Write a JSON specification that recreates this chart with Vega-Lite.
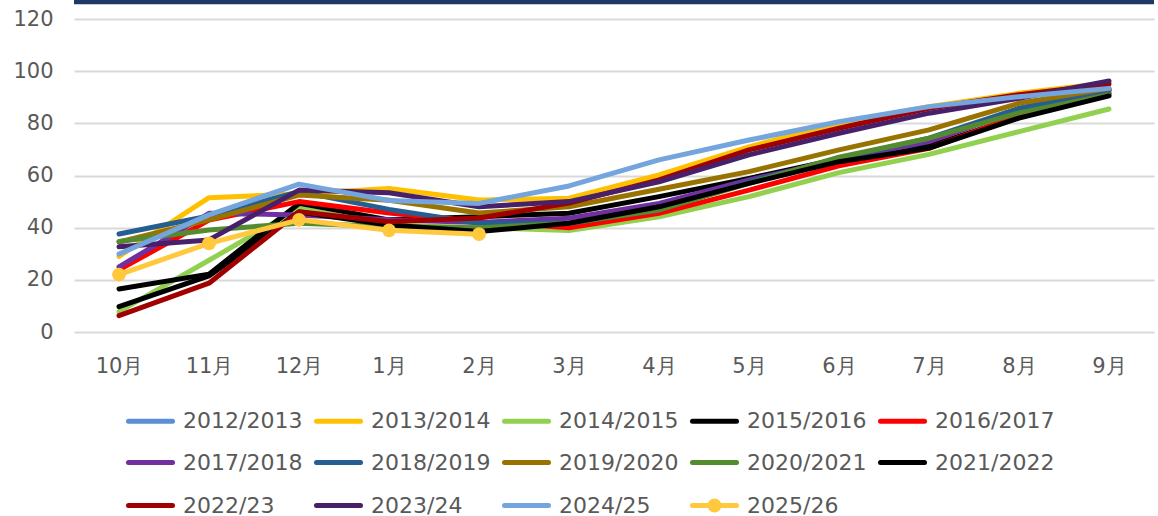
{
  "$schema": "https://vega.github.io/schema/vega-lite/v6.json",
  "width": 1080,
  "height": 313,
  "autosize": {"type": "none"},
  "padding": {"left": 74, "top": 19, "right": 4, "bottom": 184},
  "background": "#ffffff",
  "config": {
    "view": {"stroke": null},
    "font": "DejaVu Sans"
  },
  "datasets": {
    "main": [
      {"s":"2013/2014","m":"10月","v":29},{"s":"2013/2014","m":"11月","v":51.5},{"s":"2013/2014","m":"12月","v":53},{"s":"2013/2014","m":"1月","v":55},{"s":"2013/2014","m":"2月","v":50.6},{"s":"2013/2014","m":"3月","v":51.3},{"s":"2013/2014","m":"4月","v":60.2},{"s":"2013/2014","m":"5月","v":71},{"s":"2013/2014","m":"6月","v":80},{"s":"2013/2014","m":"7月","v":86.4},{"s":"2013/2014","m":"8月","v":91.5},{"s":"2013/2014","m":"9月","v":95.6},
      {"s":"2014/2015","m":"10月","v":7.8},{"s":"2014/2015","m":"11月","v":27.5},{"s":"2014/2015","m":"12月","v":47.5},{"s":"2014/2015","m":"1月","v":41},{"s":"2014/2015","m":"2月","v":40},{"s":"2014/2015","m":"3月","v":38.9},{"s":"2014/2015","m":"4月","v":44.2},{"s":"2014/2015","m":"5月","v":51.9},{"s":"2014/2015","m":"6月","v":61.1},{"s":"2014/2015","m":"7月","v":68.1},{"s":"2014/2015","m":"8月","v":76.8},{"s":"2014/2015","m":"9月","v":85.5},
      {"s":"2015/2016","m":"10月","v":16.5},{"s":"2015/2016","m":"11月","v":22.2},{"s":"2015/2016","m":"12月","v":49.3},{"s":"2015/2016","m":"1月","v":43},{"s":"2015/2016","m":"2月","v":44.2},{"s":"2015/2016","m":"3月","v":45.5},{"s":"2015/2016","m":"4月","v":51.9},{"s":"2015/2016","m":"5月","v":58.9},{"s":"2015/2016","m":"6月","v":66.3},{"s":"2015/2016","m":"7月","v":71.3},{"s":"2015/2016","m":"8月","v":82.6},{"s":"2015/2016","m":"9月","v":91.5},
      {"s":"2016/2017","m":"10月","v":23.8},{"s":"2016/2017","m":"11月","v":42.9},{"s":"2016/2017","m":"12月","v":50},{"s":"2016/2017","m":"1月","v":45.6},{"s":"2016/2017","m":"2月","v":42.3},{"s":"2016/2017","m":"3月","v":40},{"s":"2016/2017","m":"4月","v":45.5},{"s":"2016/2017","m":"5月","v":54.4},{"s":"2016/2017","m":"6月","v":63.7},{"s":"2016/2017","m":"7月","v":70.4},{"s":"2016/2017","m":"8月","v":83},{"s":"2016/2017","m":"9月","v":93},
      {"s":"2017/2018","m":"10月","v":25},{"s":"2017/2018","m":"11月","v":45.5},{"s":"2017/2018","m":"12月","v":44.9},{"s":"2017/2018","m":"1月","v":43},{"s":"2017/2018","m":"2月","v":42},{"s":"2017/2018","m":"3月","v":43.6},{"s":"2017/2018","m":"4月","v":49.3},{"s":"2017/2018","m":"5月","v":58.3},{"s":"2017/2018","m":"6月","v":66},{"s":"2017/2018","m":"7月","v":73},{"s":"2017/2018","m":"8月","v":85.1},{"s":"2017/2018","m":"9月","v":92.5},
      {"s":"2018/2019","m":"10月","v":37.6},{"s":"2018/2019","m":"11月","v":44.5},{"s":"2018/2019","m":"12月","v":53.8},{"s":"2018/2019","m":"1月","v":47},{"s":"2018/2019","m":"2月","v":41.7},{"s":"2018/2019","m":"3月","v":41.7},{"s":"2018/2019","m":"4月","v":46.8},{"s":"2018/2019","m":"5月","v":57.5},{"s":"2018/2019","m":"6月","v":66.5},{"s":"2018/2019","m":"7月","v":74.3},{"s":"2018/2019","m":"8月","v":85.8},{"s":"2018/2019","m":"9月","v":93},
      {"s":"2019/2020","m":"10月","v":34.5},{"s":"2019/2020","m":"11月","v":43},{"s":"2019/2020","m":"12月","v":52.5},{"s":"2019/2020","m":"1月","v":50.5},{"s":"2019/2020","m":"2月","v":45.6},{"s":"2019/2020","m":"3月","v":48},{"s":"2019/2020","m":"4月","v":54.7},{"s":"2019/2020","m":"5月","v":61.5},{"s":"2019/2020","m":"6月","v":69.8},{"s":"2019/2020","m":"7月","v":77.5},{"s":"2019/2020","m":"8月","v":87.7},{"s":"2019/2020","m":"9月","v":93.4},
      {"s":"2020/2021","m":"10月","v":34.7},{"s":"2020/2021","m":"11月","v":39.1},{"s":"2020/2021","m":"12月","v":41.7},{"s":"2020/2021","m":"1月","v":40.4},{"s":"2020/2021","m":"2月","v":40},{"s":"2020/2021","m":"3月","v":41.7},{"s":"2020/2021","m":"4月","v":46.8},{"s":"2020/2021","m":"5月","v":57},{"s":"2020/2021","m":"6月","v":67},{"s":"2020/2021","m":"7月","v":74.3},{"s":"2020/2021","m":"8月","v":84},{"s":"2020/2021","m":"9月","v":91},
      {"s":"2021/2022","m":"10月","v":9.7},{"s":"2021/2022","m":"11月","v":21.5},{"s":"2021/2022","m":"12月","v":46},{"s":"2021/2022","m":"1月","v":41},{"s":"2021/2022","m":"2月","v":38.5},{"s":"2021/2022","m":"3月","v":41.7},{"s":"2021/2022","m":"4月","v":48},{"s":"2021/2022","m":"5月","v":57},{"s":"2021/2022","m":"6月","v":65.3},{"s":"2021/2022","m":"7月","v":70.5},{"s":"2021/2022","m":"8月","v":82},{"s":"2021/2022","m":"9月","v":90.5},
      {"s":"2022/23","m":"10月","v":6.3},{"s":"2022/23","m":"11月","v":18.7},{"s":"2022/23","m":"12月","v":46.1},{"s":"2022/23","m":"1月","v":42.3},{"s":"2022/23","m":"2月","v":43.7},{"s":"2022/23","m":"3月","v":49.4},{"s":"2022/23","m":"4月","v":58.3},{"s":"2022/23","m":"5月","v":69.8},{"s":"2022/23","m":"6月","v":78.1},{"s":"2022/23","m":"7月","v":85.8},{"s":"2022/23","m":"8月","v":91},{"s":"2022/23","m":"9月","v":95.1},
      {"s":"2023/24","m":"10月","v":32.7},{"s":"2023/24","m":"11月","v":35.3},{"s":"2023/24","m":"12月","v":54.4},{"s":"2023/24","m":"1月","v":53.4},{"s":"2023/24","m":"2月","v":48},{"s":"2023/24","m":"3月","v":50},{"s":"2023/24","m":"4月","v":57.6},{"s":"2023/24","m":"5月","v":67.9},{"s":"2023/24","m":"6月","v":76.2},{"s":"2023/24","m":"7月","v":83.9},{"s":"2023/24","m":"8月","v":89.6},{"s":"2023/24","m":"9月","v":96.2},
      {"s":"2024/25","m":"10月","v":29.9},{"s":"2024/25","m":"11月","v":44.9},{"s":"2024/25","m":"12月","v":56.7},{"s":"2024/25","m":"1月","v":50.4},{"s":"2024/25","m":"2月","v":49.3},{"s":"2024/25","m":"3月","v":56},{"s":"2024/25","m":"4月","v":66},{"s":"2024/25","m":"5月","v":73.6},{"s":"2024/25","m":"6月","v":80.6},{"s":"2024/25","m":"7月","v":86.4},{"s":"2024/25","m":"8月","v":90.2},{"s":"2024/25","m":"9月","v":93.4},
      {"s":"2025/26","m":"10月","v":22},{"s":"2025/26","m":"11月","v":34},{"s":"2025/26","m":"12月","v":43},{"s":"2025/26","m":"1月","v":39},{"s":"2025/26","m":"2月","v":37.5}
    ],
    "topbar": [{"v": 126.5}]
  },
  "data": {"name": "main"},
  "layer": [
    {
      "mark": {"type": "line", "strokeWidth": 5, "strokeJoin": "round", "strokeCap": "round"},
      "encoding": {
        "x": {
          "field": "m", "type": "ordinal",
          "sort": ["10月","11月","12月","1月","2月","3月","4月","5月","6月","7月","8月","9月"],
          "scale": {"type": "point", "padding": 0.5},
          "axis": {"title": null, "domain": false, "ticks": false, "labelAngle": 0, "labelPadding": 23, "labelFontSize": 21, "labelColor": "#595959", "grid": false}
        },
        "y": {
          "field": "v", "type": "quantitative",
          "scale": {"domain": [0, 120], "nice": false},
          "axis": {"title": null, "values": [0,20,40,60,80,100,120], "domain": false, "ticks": false, "labelPadding": 21, "labelFontSize": 21, "labelColor": "#595959", "gridColor": "#D9D9D9", "gridWidth": 2}
        },
        "color": {
          "field": "s", "type": "nominal",
          "scale": {
            "domain": ["2012/2013","2013/2014","2014/2015","2015/2016","2016/2017","2017/2018","2018/2019","2019/2020","2020/2021","2021/2022","2022/23","2023/24","2024/25","2025/26"],
            "range": ["#5A8FD8","#FFC000","#92D050","#000000","#FF0000","#7030A0","#255E91","#997300","#558B2F","#000000","#A00000","#48206A","#74A5DC","#FFC83D"]
          },
          "legend": {
            "title": null,
            "orient": "none",
            "legendX": 52,
            "legendY": 376,
            "direction": "horizontal",
            "columns": 5,
            "gridAlign": "all",
            "symbolType": "stroke",
            "symbolSize": 1936,
            "symbolStrokeWidth": 5,
            "labelFontSize": 22,
            "labelColor": "#595959",
            "labelOffset": 8,
            "columnPadding": 3,
            "rowPadding": 4,
            "labelLimit": 300,
            "encode": {
              "symbols": {
                "update": {
                  "shape": {"signal": "datum.value === '2025/26' ? 'M-1,0H1M-0.2,0A0.2,0.2 0 1,0 0.2,0A0.2,0.2 0 1,0 -0.2,0' : 'stroke'"},
                  "strokeCap": {"value": "round"}
                }
              }
            }
          }
        }
      }
    },
    {
      "transform": [{"filter": "datum.s === '2025/26'"}],
      "mark": {"type": "point", "filled": true, "opacity": 1, "size": 190, "shape": "circle", "color": "#FFC83D"},
      "encoding": {
        "x": {"field": "m", "type": "ordinal", "sort": ["10月","11月","12月","1月","2月","3月","4月","5月","6月","7月","8月","9月"]},
        "y": {"field": "v", "type": "quantitative"}
      }
    },
    {
      "data": {"name": "topbar"},
      "mark": {"type": "rule", "color": "#1F3864", "strokeWidth": 4.5, "clip": false},
      "encoding": {"y": {"field": "v", "type": "quantitative"}}
    }
  ]
}
